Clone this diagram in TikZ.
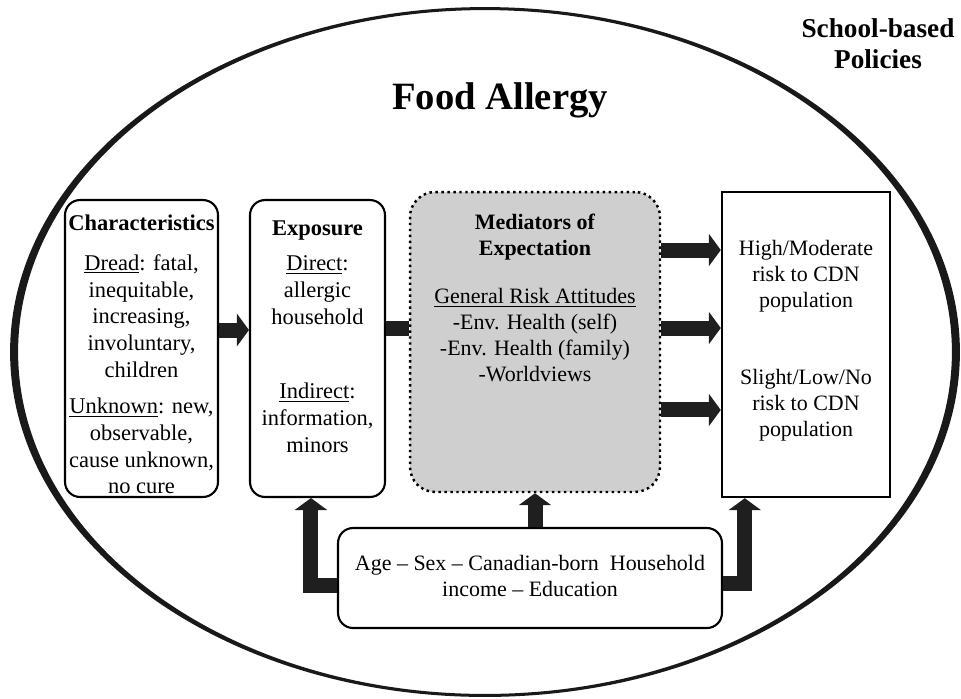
\documentclass[tikz,border=0pt]{standalone}
\usepackage{fontspec}
\setmainfont{Liberation Serif}
\usepackage{tikz}
\usetikzlibrary{positioning,arrows.meta}

\begin{document}
\begin{tikzpicture}[x=0.02cm,y=-0.02cm]
\tikzstyle{rbox}=[rectangle, rounded corners=0.3cm, draw=black, line width=1.2pt, fill=white]
\tikzstyle{medbox}=[rectangle, rounded corners=0.5cm, draw=black, dotted, line width=1.4pt, fill=black!19]
\tikzstyle{sqbox}=[rectangle, draw=black, line width=1.4pt, fill=white]
\tikzstyle{txt}=[align=center, inner sep=0pt, font=\fontsize{12.5}{14.8}\selectfont]
\tikzstyle{talltxt}=[txt, font=\fontsize{12.8}{15.3}\selectfont]
\tikzstyle{blockarrow}=[draw=black!88, line width=0.3cm, -{Triangle[length=0.24cm,width=0.64cm]}]
\tikzstyle{blockbar}=[draw=black!88, line width=0.3cm]
\useasboundingbox (0,0) rectangle (961,698);

	% outer ring
	\fill[black!90, even odd rule] (485,352) ellipse [x radius=9.5cm, y radius=6.9cm]
		(485,352) ellipse [x radius=9.34cm, y radius=6.84cm];

	\node[font=\bfseries\fontsize{22}{26}\selectfont] (title) at (500,100) {Food Allergy};
	\node[align=center, font=\bfseries\fontsize{15.5}{17.5}\selectfont] (policy) at (878,44) {School-based\\Policies};

	\node[rbox, minimum width=3.06cm, minimum height=5.94cm] (char) at (141.5,348.5) {};
	\node[rbox, minimum width=2.7cm, minimum height=5.94cm] (expo) at (317.5,348.5) {};
	\node[medbox, minimum width=5cm, minimum height=6cm] (medi) at (535,342) {};
	\node[sqbox, minimum width=3.36cm, minimum height=6.1cm] (outc) at (806,344.5) {};
	\node[rbox, minimum width=7.68cm, minimum height=2cm] (bot) at (530,578) {};

	\node[talltxt, below=0.32cm of char.north] (chartxt) {\textbf{Characteristics}\\[7pt]
		\underline{Dread}: fatal,\\ inequitable,\\ increasing,\\ involuntary,\\ children\\[5pt]
		\underline{Unknown}: new,\\ observable,\\ cause unknown,\\ no cure};
	\node[talltxt, below=0.42cm of expo.north] (expotxt) {\textbf{Exposure}\\[5pt]
		\underline{Direct}:\\ allergic\\ household\\[27pt]
		\underline{Indirect}:\\ information,\\ minors};
	\node[txt, below=0.45cm of medi.north] (meditxt) {\textbf{Mediators of}\\ \textbf{Expectation}\\[13pt]
		\underline{General Risk Attitudes}\\ -Env. Health (self)\\ -Env. Health (family)\\ -Worldviews};
	\node[txt] (outctxt) at ([yshift=0.07cm]outc) {High/Moderate\\ risk to CDN\\ population\\[29pt]
		Slight/Low/No\\ risk to CDN\\ population};
	\node[txt] (bottxt) at ([yshift=0.05cm]bot) {Age – Sex – Canadian-born\ \ Household\\ income – Education};

	\coordinate (e1) at ([yshift=0.4cm]expo.east);
	\coordinate (m1) at ([yshift=1.84cm]medi.east);
	\coordinate (m2) at ([yshift=0.28cm]medi.east);
	\coordinate (m3) at ([yshift=-1.36cm]medi.east);
	\coordinate (bl) at ([yshift=-0.14cm]bot.west);
	\coordinate (br) at ([yshift=-0.1cm]bot.east);

	\path
		([yshift=0.37cm]char.east) edge [blockarrow] ([yshift=0.37cm]expo.west)
		(e1) edge [blockbar] (e1 -| medi.west)
		(m1) edge [blockarrow] (m1 -| outc.west)
		(m2) edge [blockarrow] (m2 -| outc.west)
		(m3) edge [blockarrow] (m3 -| outc.west)
		([xshift=0.1cm]bot.north) edge [blockarrow] ([xshift=0.1cm]bot.north |- medi.south);
	\draw[blockarrow] (bl) -| ([xshift=1.24cm]expo.south west);
	\draw[blockarrow] (br) -| ([xshift=0.48cm]outc.south west);

\end{tikzpicture}
\end{document}
